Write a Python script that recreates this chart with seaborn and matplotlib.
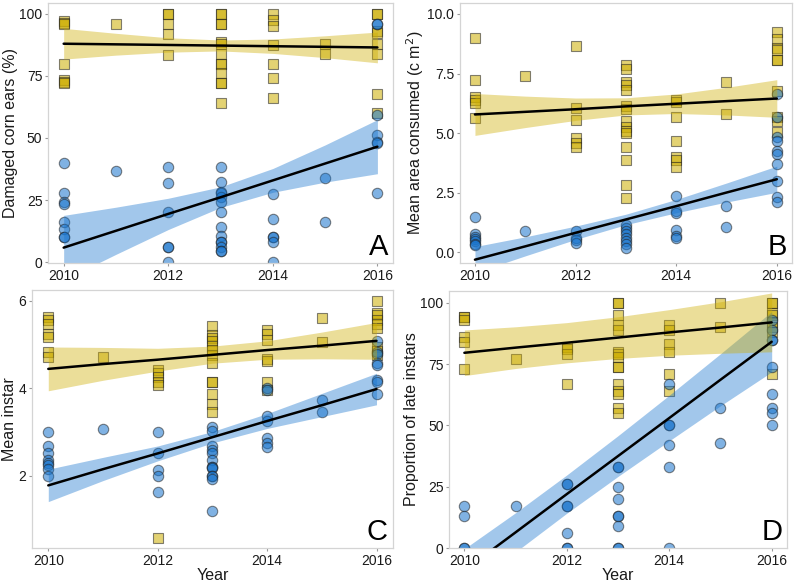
import matplotlib
matplotlib.use('Agg')
import matplotlib.pyplot as plt
import seaborn as sns
import pandas as pd

YEARS = [2010, 2011, 2012, 2013, 2014, 2015, 2016]
XTICKS = [2010, 2012, 2014, 2016]

# points per year (2010..2016); bt = blue circles, non_bt = yellow squares
a_non_bt = [[97, 96.5, 96, 80, 73.5, 72.5, 72], [96], [100, 100, 96, 92, 83.6],
            [100, 100, 96, 96, 88.5, 88, 84, 80, 80, 76, 72, 72, 64],
            [100, 97.5, 95, 87.5, 80, 74, 66], [88, 84],
            [100, 100, 93, 92.2, 88, 84, 67.6, 60.2]]
a_bt = [[40, 28, 24, 23.5, 16, 13.3, 10, 10], [36.5], [38.2, 32, 20, 6, 6, 0],
        [38.2, 32.1, 28.1, 28, 26.3, 24.2, 20.3, 14.2, 10.5, 8.2, 8, 6.2, 4.6, 4.4],
        [27.5, 17.5, 10, 10, 8, 0], [34, 16],
        [96, 96, 59.3, 51.2, 48.5, 48, 27.9]]
b_non_bt = [[9.0, 7.22, 6.5, 6.4, 6.25, 5.64], [7.4], [8.66, 6.06, 5.56, 4.78, 4.6, 4.4],
            [7.85, 7.68, 7.14, 7.0, 6.79, 6.12, 6.02, 5.5, 5.27, 5.1, 4.99, 4.4, 3.87, 2.81, 2.27],
            [6.4, 6.3, 5.67, 4.68, 3.98, 3.85, 3.56], [7.15, 5.8],
            [9.25, 8.97, 8.58, 8.48, 8.06, 8.06, 6.75, 5.67, 5.5, 5.06]]
b_bt = [[1.47, 0.75, 0.65, 0.55, 0.45, 0.35, 0.3], [0.9], [0.9, 0.6, 0.5, 0.4],
        [1.14, 1.03, 0.89, 0.75, 0.6, 0.46, 0.32, 0.18],
        [2.36, 1.73, 1.62, 0.92, 0.68, 0.58], [1.95, 1.05],
        [6.65, 5.67, 4.82, 4.68, 4.26, 4.12, 3.7, 2.97, 2.32, 2.12]]
c_non_bt = [[5.62, 5.56, 5.47, 5.23, 5.16, 4.83, 4.72], [4.72], [4.42, 4.35, 4.25, 4.15, 4.07, 0.59],
            [5.43, 5.22, 5.15, 5.07, 4.97, 4.87, 4.76, 4.57, 4.15, 4.15, 3.86, 3.63, 3.45],
            [5.33, 5.23, 5.1, 4.67, 4.62, 4.13, 3.95], [5.6, 5.06],
            [5.98, 5.71, 5.66, 5.56, 5.46, 5.38, 4.95, 4.85, 4.75]]
c_bt = [[3.0, 2.68, 2.51, 2.35, 2.3, 2.25, 2.15, 2.0], [3.07], [3.0, 2.51, 2.13, 2.0, 1.62],
        [3.11, 3.02, 2.68, 2.59, 2.51, 2.36, 2.21, 2.2, 2.17, 1.99, 1.99, 1.92, 1.2],
        [4.0, 3.95, 3.36, 3.25, 2.87, 2.75, 2.65], [3.73, 3.45],
        [5.08, 4.83, 4.78, 4.57, 4.53, 4.19, 4.14, 3.86]]
d_non_bt = [[94, 94, 93, 86, 84, 73], [77], [82, 81, 79, 67],
            [100, 100, 95, 91, 89, 80, 79, 78, 74, 74, 67, 64, 63, 57, 55],
            [91, 89, 83, 80, 71, 64], [100, 90],
            [100, 100, 96, 95, 92, 90, 88, 71]]
d_bt = [[17, 13, 0, 0], [17], [26, 26, 17, 17, 6, 0, 0],
        [33, 33, 25, 20, 13, 13, 9, 0, 0],
        [67, 50, 50, 42, 33, 0], [57, 43],
        [93, 89, 85, 85, 74, 63, 57, 55, 50]]

# fitted lines and confidence bands read at each year
a_bt_fit = [5.8, 12.6, 19.4, 26.1, 32.9, 39.7, 46.5]
a_bt_lo = [-7.2, 3.1, 13.1, 22.0, 28.1, 32.2, 35.6]
a_bt_hi = [18.8, 22.1, 25.7, 30.3, 37.7, 47.2, 57.4]
a_non_fit = [88.0, 87.75, 87.5, 87.25, 87.0, 86.75, 86.5]
a_non_lo = [81.8, 83.4, 84.6, 85.1, 84.1, 82.4, 80.3]
a_non_hi = [94.2, 92.2, 90.4, 89.5, 89.9, 91.2, 92.7]

b_bt_fit = [-0.32, 0.24, 0.81, 1.37, 1.93, 2.50, 3.06]
b_bt_lo = [-0.87, -0.16, 0.53, 1.15, 1.65, 2.10, 2.51]
b_bt_hi = [0.23, 0.64, 1.09, 1.59, 2.21, 2.90, 3.61]
b_non_fit = [5.78, 5.89, 6.00, 6.12, 6.23, 6.34, 6.45]
b_non_lo = [4.90, 5.23, 5.53, 5.76, 5.82, 5.76, 5.66]
b_non_hi = [6.66, 6.55, 6.47, 6.48, 6.64, 6.92, 7.24]

c_bt_fit = [1.78, 2.15, 2.51, 2.88, 3.25, 3.61, 3.98]
c_bt_lo = [1.41, 1.89, 2.34, 2.75, 3.08, 3.35, 3.62]
c_bt_hi = [2.15, 2.42, 2.68, 3.01, 3.42, 3.88, 4.34]
c_non_fit = [4.44, 4.55, 4.65, 4.76, 4.87, 4.97, 5.08]
c_non_lo = [3.94, 4.18, 4.39, 4.57, 4.66, 4.67, 4.66]
c_non_hi = [4.94, 4.93, 4.91, 4.96, 5.08, 5.28, 5.50]

d_bt_fit = [-9.1, 6.4, 22.0, 37.5, 53.0, 68.6, 84.1]
d_bt_lo = [-17.9, -1.6, 14.2, 29.2, 43.7, 58.0, 71.8]
d_bt_hi = [-0.3, 14.4, 29.8, 45.8, 62.3, 79.2, 96.4]
d_non_fit = [79.6, 81.7, 83.7, 85.8, 87.9, 89.9, 92.0]
d_non_lo = [70.3, 73.2, 75.5, 77.3, 78.6, 79.4, 80.0]
d_non_hi = [88.9, 90.2, 91.9, 94.3, 97.2, 100.4, 104.0]

BLUE = '#1874CD'
GOLD = '#CDAD00'

sns.set_theme(style='white')
plt.rcParams['font.family'] = ['Liberation Sans', 'DejaVu Sans']


def long_form(groups):
    yrs, vals = [], []
    for yr, vs in zip(YEARS, groups):
        yrs += [yr] * len(vs)
        vals += vs
    return pd.DataFrame({'Year': yrs, 'value': vals})


def panel(ax, non_bt, bt, fits, ylim, yticks, yticklabels, ylabel, letter, xlabel=None):
    sns.scatterplot(data=long_form(non_bt), x='Year', y='value', ax=ax, marker='s',
                    s=46, color=GOLD, alpha=0.55, edgecolor='#222222', linewidth=0.8)
    sns.scatterplot(data=long_form(bt), x='Year', y='value', ax=ax, marker='o',
                    s=56, color=BLUE, alpha=0.55, edgecolor='#222222', linewidth=0.8)
    bt_fit, bt_lo, bt_hi, non_fit, non_lo, non_hi = fits
    ax.fill_between(YEARS, bt_lo, bt_hi, color=BLUE, alpha=0.4, linewidth=0)
    ax.fill_between(YEARS, non_lo, non_hi, color=GOLD, alpha=0.4, linewidth=0)
    sns.lineplot(x=YEARS, y=bt_fit, ax=ax, color='black', linewidth=1.8)
    sns.lineplot(x=YEARS, y=non_fit, ax=ax, color='black', linewidth=1.8)
    ax.set_xlim(2009.7, 2016.3)
    ax.set_ylim(*ylim)
    ax.set_xticks(XTICKS)
    ax.set_yticks(yticks)
    ax.set_yticklabels(yticklabels)
    ax.tick_params(axis='both', which='both', bottom=True, left=True, length=2.5, width=0.8,
                   color='#999999', labelsize=10, labelcolor='#1a1a1a', pad=1.5)
    for sp in ax.spines.values():
        sp.set_color('#d4d4d4')
        sp.set_linewidth(0.9)
    ax.set_ylabel(ylabel, fontsize=11.5, color='#1a1a1a', labelpad=1)
    ax.set_xlabel(xlabel if xlabel else '', fontsize=11.5, color='#1a1a1a', labelpad=0)
    ax.text(0.986, 0.008, letter, transform=ax.transAxes, ha='right', va='bottom',
            fontsize=21, color='black')


fig = plt.figure(figsize=(7.97, 5.85), dpi=100)
ax_a = fig.add_axes([0.0602, 0.5504, 0.433, 0.4444])
ax_b = fig.add_axes([0.577, 0.5504, 0.4166, 0.4444])
ax_c = fig.add_axes([0.040, 0.0632, 0.453, 0.441])
ax_d = fig.add_axes([0.5634, 0.0632, 0.4241, 0.4394])

panel(ax_a, a_non_bt, a_bt, (a_bt_fit, a_bt_lo, a_bt_hi, a_non_fit, a_non_lo, a_non_hi),
      (-0.4, 104.4), [0, 25, 50, 75, 100], ['0', '25', '50', '75', '100'],
      'Damaged corn ears (%)', 'A')
panel(ax_b, b_non_bt, b_bt, (b_bt_fit, b_bt_lo, b_bt_hi, b_non_fit, b_non_lo, b_non_hi),
      (-0.46, 10.46), [0, 2.5, 5, 7.5, 10], ['0.0', '2.5', '5.0', '7.5', '10.0'],
      'Mean area consumed (c m$^{2}$)', 'B')
panel(ax_c, c_non_bt, c_bt, (c_bt_fit, c_bt_lo, c_bt_hi, c_non_fit, c_non_lo, c_non_hi),
      (0.35, 6.24), [2, 4, 6], ['2', '4', '6'],
      'Mean instar', 'C', xlabel='Year')
panel(ax_d, d_non_bt, d_bt, (d_bt_fit, d_bt_lo, d_bt_hi, d_non_fit, d_non_lo, d_non_hi),
      (0, 104.8), [0, 25, 50, 75, 100], ['0', '25', '50', '75', '100'],
      'Proportion of late instars', 'D', xlabel='Year')

fig.savefig('out.png', dpi=100)
